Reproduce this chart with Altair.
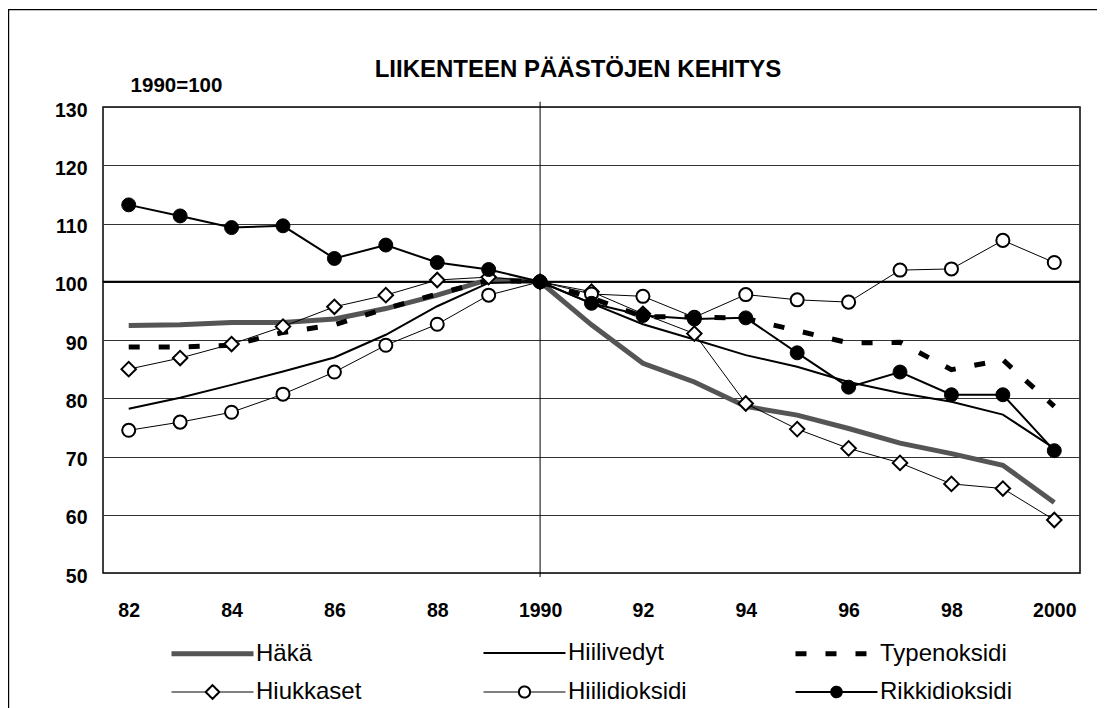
import altair as alt
import pandas as pd

FONT = "Liberation Sans"

years = ["82", "83", "84", "85", "86", "87", "88", "89", "1990",
         "91", "92", "93", "94", "95", "96", "97", "98", "99", "2000"]
year_ticks = ["82", "84", "86", "88", "1990", "92", "94", "96", "98", "2000"]

series_names = ["Häkä", "Hiilivedyt", "Typenoksidi",
                "Hiukkaset", "Hiilidioksidi", "Rikkidioksidi"]

haka = [92.5, 92.6, 93.0, 93.0, 93.6, 95.4, 97.7, 100.4, 100,
        92.6, 86.0, 82.8, 78.6, 77.1, 74.8, 72.3, 70.5, 68.5, 62.1]
hiilivedyt = [78.2, 80.1, 82.3, 84.6, 87.0, 90.9, 95.8, 99.8, 100,
              96.3, 92.7, 90.1, 87.4, 85.4, 82.8, 80.9, 79.4, 77.2, 71.4]
typenoksidi = [88.8, 88.8, 89.1, 91.3, 92.6, 95.4, 97.9, 100.2, 100,
               97.2, 94.0, 94.0, 93.7, 91.6, 89.5, 89.6, 84.9, 86.6, 78.6]
hiukkaset = [85.0, 86.9, 89.3, 92.3, 95.7, 97.7, 100.3, 100.8, 100,
             98.3, 94.5, 91.1, 79.1, 74.7, 71.4, 68.9, 65.3, 64.5, 59.1]
hiilidioksidi = [74.5, 75.9, 77.6, 80.7, 84.5, 89.1, 92.7, 97.7, 100,
                 97.9, 97.5, 93.9, 97.8, 96.9, 96.5, 102.0, 102.2, 107.1, 103.3]
rikkidioksidi = [113.2, 111.3, 109.3, 109.6, 104.0, 106.3, 103.3, 102.1, 100,
                 96.3, 94.2, 93.6, 93.8, 87.8, 81.9, 84.5, 80.6, 80.6, 71.0]

title_text = "LIIKENTEEN PÄÄSTÖJEN KEHITYS"
base_label = "1990=100"
y_ticks = [50, 60, 70, 80, 90, 100, 110, 120, 130]

all_series = [haka, hiilivedyt, typenoksidi, hiukkaset, hiilidioksidi, rikkidioksidi]
rows = []
for name, vals in zip(series_names, all_series):
    for yr, v in zip(years, vals):
        rows.append({"vuosi": yr, "sarja": name, "arvo": v})
df = pd.DataFrame(rows)

xscale = alt.Scale(type="point", padding=0.5, domain=years)
xenc = alt.X("vuosi:O", sort=years, scale=xscale,
             axis=alt.Axis(values=year_ticks, labelAngle=0, labelAlign="center",
                           labelBaseline="top", title=None,
                           labelFont=FONT, labelFontSize=19.5, labelFontWeight="bold",
                           labelColor="black", ticks=False, domain=False, grid=False,
                           labelPadding=28))
yscale = alt.Scale(domain=[50, 130], nice=False, zero=False)
yenc = alt.Y("arvo:Q", scale=yscale,
             axis=alt.Axis(values=y_ticks, title=base_label, titleAngle=0,
                           titleX=73, titleY=-16, titleAlign="center",
                           titleBaseline="alphabetic", titleFont=FONT,
                           titleFontSize=20.5, titleFontWeight="bold", titleColor="black",
                           labelFont=FONT, labelFontSize=19.5, labelFontWeight="bold",
                           labelColor="black", ticks=False, domain=False,
                           labelPadding=16, labelOffset=3,
                           grid=True, gridColor="#333333", gridWidth=1))

base = alt.Chart(df)

# outer chart frame
frame = alt.Chart(pd.DataFrame({"k": [0]})).mark_rect(
    fill="transparent", stroke="black", strokeWidth=1.2
).encode(x=alt.value(-94.4), x2=alt.value(1300), y=alt.value(-97.4), y2=alt.value(900))

# base line 100
hundred = alt.Chart(pd.DataFrame({"arvo": [100]})).mark_rule(
    color="black", strokeWidth=2).encode(y=alt.Y("arvo:Q", scale=yscale))

# vertical line at 1990
vline = alt.Chart(pd.DataFrame({"vuosi": ["1990"], "a": [130.9], "b": [49.3]})).mark_rule(
    color="black", strokeWidth=1).encode(
    x=alt.X("vuosi:O", sort=years, scale=xscale),
    y=alt.Y("a:Q", scale=yscale), y2="b:Q")


def sel(name):
    return base.transform_filter(alt.datum.sarja == name)


l_haka = sel("Häkä").mark_line(color="#555555", strokeWidth=5).encode(x=xenc, y=yenc)
l_hv = sel("Hiilivedyt").mark_line(color="black", strokeWidth=2).encode(x=xenc, y=yenc)
l_typ = sel("Typenoksidi").mark_line(color="black", strokeWidth=5,
                                      strokeDash=[11, 19]).encode(x=xenc, y=yenc)
l_hiu = sel("Hiukkaset").mark_line(color="black", strokeWidth=1).encode(x=xenc, y=yenc)
p_hiu = sel("Hiukkaset").mark_point(shape="diamond", size=210, filled=True, fill="white",
                                    stroke="black", strokeWidth=2, opacity=1).encode(x=xenc, y=yenc)
l_co2 = sel("Hiilidioksidi").mark_line(color="black", strokeWidth=1).encode(x=xenc, y=yenc)
p_co2 = sel("Hiilidioksidi").mark_point(shape="circle", size=170, filled=True, fill="white",
                                        stroke="black", strokeWidth=2, opacity=1).encode(x=xenc, y=yenc)
l_so2 = sel("Rikkidioksidi").mark_line(color="black", strokeWidth=2).encode(x=xenc, y=yenc)
p_so2 = sel("Rikkidioksidi").mark_point(shape="circle", size=195, filled=True, fill="black",
                                        stroke="black", strokeWidth=1, opacity=1).encode(x=xenc, y=yenc)

# legend symbols (line + marker) as custom paths; unit = 12 px (symbol size 576)
line_path = "M-3.417,0L3.417,0"
diamond_path = ("M-3.417,0L-0.617,0M0.617,0L3.417,0"
                "M0,-0.617L0.617,0L0,0.617L-0.617,0Z"
                "M0,-0.52L0.52,0L0,0.52L-0.52,0Z")
circle_path = ("M-3.417,0L-0.5,0M0.5,0L3.417,0"
               "M0.5,0A0.5,0.5 0 1,1 -0.5,0A0.5,0.5 0 1,1 0.5,0Z"
               "M0.43,0A0.43,0.43 0 1,1 -0.43,0A0.43,0.43 0 1,1 0.43,0Z")
dot_path = ("M-3.417,0L3.417,0"
            "M0.44,0A0.44,0.44 0 1,1 -0.44,0A0.44,0.44 0 1,1 0.44,0Z")

leg = alt.Legend(orient="none", legendX=66, legendY=532, columns=3, direction="horizontal",
                 gridAlign="all", columnPadding=84, rowPadding=13,
                 labelFont=FONT, labelFontSize=24, labelColor="black",
                 symbolOffset=29, labelOffset=29,
                 labelLimit=400, symbolSize=576, padding=0,
                 symbolOpacity=1)

legend_layer = base.mark_point(opacity=0, size=576).encode(
    x=xenc, y=yenc,
    shape=alt.Shape("sarja:N", title=None, legend=leg,
                    scale=alt.Scale(domain=series_names,
                                    range=[line_path, line_path, line_path,
                                           diamond_path, circle_path, dot_path])),
    stroke=alt.Stroke("sarja:N", title=None, legend=leg,
                      scale=alt.Scale(domain=series_names,
                                      range=["#555555", "black", "black", "black", "black", "black"])),
    fill=alt.Fill("sarja:N", title=None, legend=leg,
                  scale=alt.Scale(domain=series_names,
                                  range=["transparent", "transparent", "transparent",
                                         "white", "white", "black"])),
    strokeWidth=alt.StrokeWidth("sarja:N", title=None, legend=leg,
                                scale=alt.Scale(type="ordinal", domain=series_names,
                                                range=[5, 2, 5, 1.2, 1.2, 2])),
    strokeDash=alt.StrokeDash("sarja:N", title=None, legend=leg,
                              scale=alt.Scale(domain=series_names,
                                              range=[[1, 0], [1, 0], [11, 19],
                                                     [1, 0], [1, 0], [1, 0]])),
)

title = alt.Chart(pd.DataFrame({"t": [title_text]})).mark_text(
    font=FONT, fontSize=24, fontWeight="bold", color="black",
    align="center", baseline="alphabetic"
).encode(text="t:N", x=alt.value(475), y=alt.value(-30))

chart = alt.layer(
    frame, hundred, vline,
    l_haka, l_hv, l_typ, l_hiu, p_hiu, l_co2, p_co2, l_so2, p_so2,
    legend_layer, title
).properties(
    width=977, height=466,
    autosize=alt.AutoSizeParams(type="none"),
    padding={"left": 95, "top": 99, "right": 17, "bottom": 135},
    background="white",
).configure_view(stroke="black", strokeWidth=1.5)

chart.save("out.html", embed_options={"renderer": "svg", "actions": False})
